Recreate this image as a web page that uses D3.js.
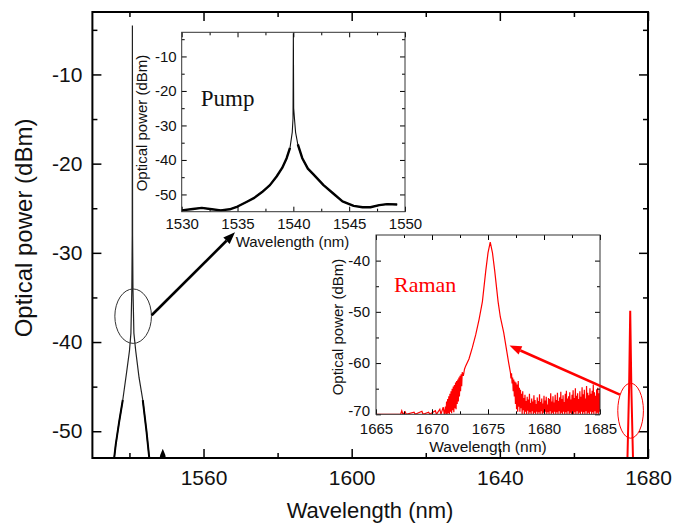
<!DOCTYPE html>
<html>
<head>
<meta charset="utf-8">
<script src="https://cdn.jsdelivr.net/npm/d3@7"></script>
<style>
  body { margin: 0; background: #fff; }
  svg { display: block; font-family: "Liberation Sans", Arial, sans-serif; }
  .ax .domain { display: none; }
</style>
</head>
<body>
<div id="chart"></div>
<script>
// ---- main spectrum (nm, dBm) ----
var mainPump = [[1535.6,-54],[1536.3,-51.5],[1537.2,-49],[1538.2,-46.5],[1539.2,-43.5],[1540.0,-41],
  [1540.4,-39],[1540.65,-34],[1540.75,-28],[1540.8,-4.5],[1540.85,-28],[1540.95,-34],[1541.2,-39],
  [1541.7,-41],[1542.6,-44],[1543.6,-46.5],[1544.6,-50],[1545.6,-54]];
var mainBump = [[1548.4,-53.3],[1548.7,-52.7],[1549.0,-52.4],[1549.3,-52.7],[1549.5,-53.3]];
var mainRaman = [[1674.4,-54],[1674.9,-45],[1675.2,-36.5],[1675.5,-45],[1676.0,-54]];

var mainXMajor = [1560, 1600, 1640, 1680],
    mainXMinor = [1540, 1580, 1620, 1660],
    mainYMajor = [-10, -20, -30, -40, -50],
    mainYMinor = [-5, -15, -25, -35, -45];

// ---- pump inset ----
var pumpInset = [[1530,-54.6],[1531,-54.2],[1531.8,-53.9],[1532.7,-54.3],[1533.5,-54.6],[1534.3,-54.3],
  [1535,-53.5],[1535.8,-52.2],[1536.5,-51],[1537.2,-49.3],[1537.9,-47.3],[1538.5,-44.8],[1539,-42.3],
  [1539.4,-39.5],[1539.7,-36.5],[1539.9,-32],[1539.97,-28],[1540,-3.3],[1540.03,-25],[1540.1,-28],
  [1540.2,-32],[1540.4,-35.5],[1540.8,-39.5],[1541.3,-42.5],[1541.8,-44.2],[1542.7,-47.3],[1543.6,-49.8],
  [1544.4,-52],[1545.4,-53.3],[1546.2,-53.7],[1546.9,-53.7],[1547.7,-53.1],[1548.4,-52.8],[1549.3,-52.9]];
var pumpXTicks = [1530, 1535, 1540, 1545, 1550],
    pumpXMinor = [1532.5, 1537.5, 1542.5, 1547.5],
    pumpYTicks = [-10, -20, -30, -40, -50],
    pumpYMinor = [-5, -15, -25, -35, -45];

// ---- raman inset ----
var ramanPeak = [[1665,-70],[1667.2,-70],[1667.3,-69.3],[1667.4,-70],[1667.6,-69.5],[1667.7,-70],
  [1668.4,-69.6],[1668.5,-70],[1669.1,-69.4],[1669.2,-70],[1669.7,-69.6],[1669.8,-70],[1670.3,-69.3],
  [1670.4,-70],[1670.7,-69.0],[1670.8,-70],[1671.0,-68.6],[1671.1,-70],
  [1671.2,-68.5],[1671.25,-70],[1671.3,-67.5],[1671.35,-70],[1671.4,-67],[1671.45,-69.8],[1671.5,-66.5],
  [1671.55,-70],[1671.6,-66],[1671.65,-69.5],[1671.7,-65.5],[1671.75,-69.8],[1671.8,-65],[1671.85,-69.2],
  [1671.9,-64.6],[1671.95,-69.6],[1672.0,-64.3],[1672.05,-68.8],[1672.1,-63.8],[1672.15,-69],
  [1672.2,-63.5],[1672.25,-68],[1672.3,-63.2],[1672.35,-67.5],[1672.4,-62.8],[1672.45,-66.5],
  [1672.5,-62.5],[1672.55,-65.5],[1672.6,-62.2],[1672.65,-64.5],[1672.7,-61.8],[1672.8,-62.5],
  [1672.9,-61.2],[1673.0,-60.6],[1673.3,-59.2],[1673.6,-57],[1673.9,-54.5],[1674.2,-51.5],
  [1674.5,-48],[1674.8,-42],[1675.0,-38.5],[1675.2,-36.4],[1675.4,-38.5],[1675.6,-42],[1675.9,-48],
  [1676.1,-51],[1676.4,-54],[1676.7,-58],[1676.85,-60],[1677.0,-61.8],[1677.05,-63],[1677.1,-62],
  [1677.15,-64],[1677.2,-62.8],[1677.25,-65.5],[1677.3,-63.2],[1677.35,-66.5],[1677.4,-63.6],
  [1677.45,-68],[1677.5,-63.8],[1677.55,-69],[1677.6,-64.2],[1677.65,-69.5]];
var ramanFloorStart = 1677.7, ramanFloorStep = 0.05;
var ramanFloor = [-63.5,-68.5,-64.8,-69.5,-65.2,-68.8,-66,-70,-65.5,-69.2,
  -66.8,-70,-66.2,-69.5,-67.4,-70,-66.6,-69.3,-67.1,-70,
  -66,-69.6,-67.8,-70,-66.9,-69.4,-67.5,-70,-66.3,-69.7,
  -67.2,-70,-68,-69.5,-66.7,-70,-67.4,-69.6,-66.1,-70,
  -67.6,-69.4,-66.9,-70,-67.9,-69.7,-66.4,-70,-67.3,-69.5,
  -66.6,-70,-68.1,-69.6,-66.8,-70,-67,-69.4,-65.9,-70,
  -67.5,-69.7,-66.5,-70,-67.7,-69.5,-66.2,-70,-67.2,-69.6,
  -65.8,-70,-67.4,-69.4,-66.7,-70,-65.6,-69.7,-67,-70,
  -66.3,-69.5,-67.6,-70,-66,-69.6,-65.4,-70,-66.9,-69.4,
  -66.5,-70,-65.7,-69.7,-67.1,-70,-66.2,-69.5,-65.3,-70,
  -66.8,-69.6,-64.9,-70,-66.4,-69.4,-65.9,-70,-67,-69.7,
  -65.5,-70,-66.6,-69.5,-64.7,-70,-66.1,-69.6,-65.2,-70,
  -66.9,-69.4,-64.5,-70,-65.8,-69.7,-66.3,-70,-64.9,-69.5,
  -66,-70,-65.4,-69.6,-64.2,-70,-65.7,-69.4,-66.4,-70,
  -65.1,-69.7,-64.8,-70,-65.9,-69.5,-65];
var ramanXTicks = [1665, 1670, 1675, 1680, 1685],
    ramanXMinor = [1667.5, 1672.5, 1677.5, 1682.5],
    ramanYTicks = [-40, -50, -60, -70],
    ramanYMinor = [-45, -55, -65];

// ---- annotations in main-plot units: [nm, dBm, half-width nm, half-height dB] ----
var circles = [[1541.0, -37.1, 4.94, 3.05], [1675.3, -47.7, 3.46, 3.08]];
// arrows: [from nm, from dBm, to nm, to dBm]
var arrows = [[1546.0, -37.0, 1568.5, -27.7], [1672.4, -45.9, 1642.6, -40.4]];

var W = 688, H = 525;
var svg = d3.select("#chart").append("svg").attr("width", W).attr("height", H);

function fmt(d) { return String(d); }

function panel(o) {
  var g = svg.append("g").attr("transform", "translate(" + o.left + "," + o.top + ")");
  var x = d3.scaleLinear().domain(o.xDomain).range([0, o.w]);
  var y = d3.scaleLinear().domain(o.yDomain).range([o.h, 0]);

  g.append("rect").attr("width", o.w).attr("height", o.h).attr("fill", "#fff");

  var id = "clip" + o.name;
  g.append("clipPath").attr("id", id).append("rect").attr("width", o.w).attr("height", o.h);
  var plot = g.append("g").attr("clip-path", "url(#" + id + ")");

  // ticks on all four sides, pointing in
  var sets = [
    [d3.axisBottom(x).tickValues(o.xMajor).tickSize(-o.big).tickPadding(o.padX).tickFormat(fmt), "0," + o.h],
    [d3.axisBottom(x).tickValues(o.xMinor).tickSize(-o.small).tickFormat(""), "0," + o.h],
    [d3.axisTop(x).tickValues(o.xMajor).tickSize(-o.big).tickFormat(""), "0,0"],
    [d3.axisTop(x).tickValues(o.xMinor).tickSize(-o.small).tickFormat(""), "0,0"],
    [d3.axisLeft(y).tickValues(o.yMajor).tickSize(-o.big).tickPadding(o.padY).tickFormat(fmt), "0,0"],
    [d3.axisLeft(y).tickValues(o.yMinor).tickSize(-o.small).tickFormat(""), "0,0"],
    [d3.axisRight(y).tickValues(o.yMajor).tickSize(-o.big).tickFormat(""), o.w + ",0"],
    [d3.axisRight(y).tickValues(o.yMinor).tickSize(-o.small).tickFormat(""), o.w + ",0"]
  ];
  sets.forEach(function (s, k) {
    var a = g.append("g").attr("class", "ax").attr("transform", "translate(" + s[1] + ")").call(s[0]);
    a.selectAll("line").attr("stroke", "#000").attr("stroke-width", o.tickW);
    a.selectAll("text").attr("fill", "#111").style("font-size", o.font + "px");
    // the lowest y label sits in the corner, lift it a little off the x labels
    if (k === 4) {
      a.selectAll("text").filter(function (d) { return d === o.yDomain[0]; }).attr("dy", "0.1em");
    }
  });

  g.append("rect").attr("width", o.w).attr("height", o.h)
    .attr("fill", "none").attr("stroke", o.frameColor).attr("stroke-width", o.frameW);

  return { g: g, plot: plot, x: x, y: y };
}

function line(p, sx, sy, keep) {
  return d3.line()
    .defined(function (d) { return keep ? keep(d) : true; })
    .x(function (d) { return sx(d[0]); })
    .y(function (d) { return sy(d[1]); })(p);
}

// ---------- main chart ----------
var main = panel({
  name: "main", left: 92.4, top: 12, w: 555.6, h: 446,
  xDomain: [1530, 1680], yDomain: [-53, -3],
  xMajor: mainXMajor, xMinor: mainXMinor, yMajor: mainYMajor, yMinor: mainYMinor,
  big: 9, small: 5, padX: 12, padY: 10, font: 21, tickW: 1.5, frameW: 2, frameColor: "#000"
});

main.plot.append("path").attr("d", line(mainPump, main.x, main.y))
  .attr("fill", "none").attr("stroke", "#222").attr("stroke-width", 1.2);
main.plot.append("path").attr("d", line(mainPump, main.x, main.y, function (d) { return d[1] < -45; }))
  .attr("fill", "none").attr("stroke", "#000").attr("stroke-width", 2);
main.plot.append("path").attr("d", line(mainBump, main.x, main.y))
  .attr("fill", "none").attr("stroke", "#000").attr("stroke-width", 3);
main.plot.append("path").attr("d", line(mainRaman, main.x, main.y))
  .attr("fill", "none").attr("stroke", "#f00").attr("stroke-width", 2);

svg.append("text").attr("transform", "translate(32,228) rotate(-90)")
  .attr("text-anchor", "middle").style("font-size", "24px").attr("fill", "#111")
  .text("Optical power (dBm)");
svg.append("text").attr("x", 370).attr("y", 518)
  .attr("text-anchor", "middle").style("font-size", "22px").attr("fill", "#111")
  .text("Wavelength (nm)");

// ---------- pump inset ----------
var pump = panel({
  name: "pump", left: 181.7, top: 32.3, w: 223.3, h: 179.4,
  xDomain: [1530, 1550], yDomain: [-55, -3],
  xMajor: pumpXTicks, xMinor: pumpXMinor, yMajor: pumpYTicks, yMinor: pumpYMinor,
  big: 5, small: 3, padX: 7, padY: 5, font: 15, tickW: 1, frameW: 1, frameColor: "#333"
});
pump.plot.append("path").attr("d", line(pumpInset, pump.x, pump.y))
  .attr("fill", "none").attr("stroke", "#111").attr("stroke-width", 1.1);
pump.plot.append("path").attr("d", line(pumpInset, pump.x, pump.y, function (d) { return d[1] < -35; }))
  .attr("fill", "none").attr("stroke", "#000").attr("stroke-width", 2.4).attr("stroke-linejoin", "round");
pump.g.append("text").attr("x", 19).attr("y", 74)
  .style("font-family", "'Liberation Serif','Times New Roman',serif").style("font-size", "23px")
  .attr("fill", "#111").text("Pump");
svg.append("text").attr("transform", "translate(147,123) rotate(-90)")
  .attr("text-anchor", "middle").style("font-size", "15px").attr("fill", "#111")
  .text("Optical power (dBm)");
svg.append("text").attr("x", 292.5).attr("y", 247)
  .attr("text-anchor", "middle").style("font-size", "15px").attr("fill", "#111")
  .text("Wavelength (nm)");

// ---------- raman inset ----------
var raman = panel({
  name: "raman", left: 376, top: 235, w: 224, h: 179.3,
  xDomain: [1665, 1685], yDomain: [-70, -35],
  xMajor: ramanXTicks, xMinor: ramanXMinor, yMajor: ramanYTicks, yMinor: ramanYMinor,
  big: 5, small: 3, padX: 9, padY: 6, font: 15, tickW: 1, frameW: 1, frameColor: "#333"
});
var ramanAll = ramanPeak.concat(ramanFloor.map(function (v, i) {
  return [ramanFloorStart + i * ramanFloorStep, v];
}));
raman.plot.append("path").attr("d", line(ramanAll, raman.x, raman.y))
  .attr("fill", "none").attr("stroke", "#f00").attr("stroke-width", 1.2);
raman.g.append("text").attr("x", 18).attr("y", 57)
  .style("font-family", "'Liberation Serif','Times New Roman',serif").style("font-size", "22px")
  .attr("fill", "#f00").text("Raman");
svg.append("text").attr("transform", "translate(343,327) rotate(-90)")
  .attr("text-anchor", "middle").style("font-size", "15px").attr("fill", "#111")
  .text("Optical power (dBm)");
svg.append("text").attr("x", 488).attr("y", 452)
  .attr("text-anchor", "middle").style("font-size", "15.5px").attr("fill", "#111")
  .text("Wavelength (nm)");

// ---------- annotations ----------
var ann = svg.append("g").attr("transform", "translate(92.4,12)");
var annColor = ["#333", "#f00"], arrowColor = ["#000", "#f00"];

circles.forEach(function (c, i) {
  ann.append("ellipse")
    .attr("cx", main.x(c[0])).attr("cy", main.y(c[1]))
    .attr("rx", main.x(c[0] + c[2]) - main.x(c[0]))
    .attr("ry", main.y(c[1] - c[3]) - main.y(c[1]))
    .attr("fill", "none").attr("stroke", annColor[i]).attr("stroke-width", 1);
});

arrows.forEach(function (a, i) {
  var x0 = main.x(a[0]), y0 = main.y(a[1]), x1 = main.x(a[2]), y1 = main.y(a[3]);
  var ang = Math.atan2(y1 - y0, x1 - x0), len = 12, half = 4.5;
  var bx = x1 - len * Math.cos(ang), by = y1 - len * Math.sin(ang);
  ann.append("line").attr("x1", x0).attr("y1", y0).attr("x2", bx).attr("y2", by)
    .attr("stroke", arrowColor[i]).attr("stroke-width", 2.6);
  ann.append("path")
    .attr("d", "M" + x1 + "," + y1 +
      "L" + (bx + half * Math.sin(ang)) + "," + (by - half * Math.cos(ang)) +
      "L" + (bx - half * Math.sin(ang)) + "," + (by + half * Math.cos(ang)) + "Z")
    .attr("fill", arrowColor[i]);
});
</script>
</body>
</html>
